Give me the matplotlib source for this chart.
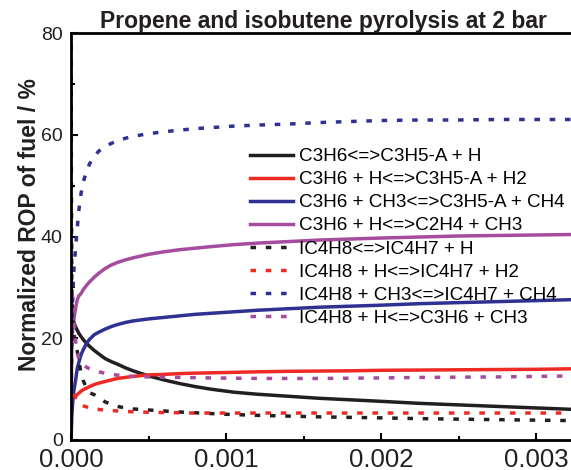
import matplotlib
matplotlib.use('Agg')
import matplotlib.pyplot as plt
from matplotlib.ticker import MultipleLocator, FormatStrFormatter

plt.rcParams['font.family'] = ['Liberation Sans', 'DejaVu Sans']

# time / s
t = [0, 0.000002, 0.000005, 0.00001, 0.000015, 0.00002, 0.00003, 0.00004,
     0.00005, 0.000065, 0.00008, 0.0001, 0.00012, 0.00015, 0.00018, 0.00022,
     0.00026, 0.0003, 0.00035, 0.0004, 0.0005, 0.0006, 0.0007, 0.0008,
     0.0009, 0.00105, 0.0012, 0.0014, 0.0016, 0.0018, 0.002, 0.00225,
     0.0025, 0.00275, 0.003, 0.00325]

# propene reactions
c3h6_decomp = [30, 28, 26, 24.5, 23.6, 23.0, 22.2, 21.6, 21.0, 20.3, 19.7,
               19.0, 18.4, 17.6, 16.9, 16.0, 15.4, 14.9, 14.2, 13.6, 12.6,
               11.8, 11.1, 10.5, 10.0, 9.4, 9.0, 8.6, 8.2, 7.9, 7.6, 7.2,
               6.9, 6.6, 6.3, 6.0]
c3h6_h_abs = [11.2, 10.2, 9.2, 8.5, 8.2, 8.3, 8.6, 8.9, 9.2, 9.6, 9.9,
              10.2, 10.5, 10.9, 11.2, 11.5, 11.8, 12.1, 12.3, 12.5, 12.8,
              12.9, 13.05, 13.15, 13.2, 13.3, 13.4, 13.5, 13.55, 13.6, 13.7,
              13.75, 13.8, 13.85, 13.9, 14.0]
c3h6_ch3_abs = [0, 1.5, 4.5, 7, 8.8, 10, 11.8, 14, 15.2, 16.8, 17.8, 19.0,
                19.8, 20.7, 21.2, 21.8, 22.3, 22.7, 23.1, 23.4, 23.8, 24.1,
                24.4, 24.7, 24.9, 25.2, 25.5, 25.8, 26.1, 26.3, 26.5, 26.8,
                27.0, 27.2, 27.4, 27.6]
c3h6_h_add = [0, 10, 18, 21.5, 23, 24, 26, 27.5, 28.3, 28.8, 29.6, 30.4,
              31.1, 32.0, 32.8, 33.7, 34.4, 34.9, 35.4, 35.8, 36.5, 37.0,
              37.4, 37.7, 38.0, 38.4, 38.7, 39.0, 39.3, 39.5, 39.7, 39.9,
              40.1, 40.2, 40.3, 40.4]

# isobutene reactions
ic4h8_decomp = [95, 55, 30, 24, 21.5, 20.5, 19.3, 17.5, 15.5, 13.2, 11.6,
                10.2, 9.3, 8.9, 8.2, 7.5, 7.0, 6.6, 6.3, 6.1, 5.9, 5.7, 5.5,
                5.35, 5.2, 5.0, 4.85, 4.7, 4.55, 4.45, 4.35, 4.2, 4.1, 4.0,
                3.9, 3.8]
ic4h8_h_abs = [12, 11.5, 11, 10.3, 9.6, 9, 8.2, 7.6, 7.2, 6.9, 6.7, 6.5,
               6.3, 6.1, 6.0, 5.9, 5.8, 5.7, 5.6, 5.55, 5.45, 5.4, 5.35,
               5.3, 5.3, 5.3, 5.3, 5.3, 5.3, 5.3, 5.3, 5.3, 5.3, 5.3, 5.3,
               5.3]
ic4h8_ch3_abs = [0, 10, 20, 27, 31, 34, 38, 41.5, 45, 48.5, 50.8, 52.8,
                 54.3, 55.8, 56.8, 57.7, 58.3, 58.8, 59.3, 59.7, 60.2, 60.6,
                 60.9, 61.2, 61.4, 61.7, 61.9, 62.1, 62.4, 62.6, 62.8, 62.9,
                 62.9, 63.0, 63.0, 63.0]
ic4h8_h_add = [35, 32, 30, 28, 26, 23, 19.5, 17.3, 16, 15.2, 14.7, 14.3,
               14.0, 13.7, 13.4, 13.1, 12.9, 12.75, 12.6, 12.5, 12.4, 12.35,
               12.3, 12.25, 12.2, 12.15, 12.1, 12.1, 12.1, 12.15, 12.2, 12.3,
               12.35, 12.4, 12.5, 12.6]

labels = ['C3H6<=>C3H5-A + H', 'C3H6 + H<=>C3H5-A + H2',
          'C3H6 + CH3<=>C3H5-A + CH4', 'C3H6 + H<=>C2H4 + CH3',
          'IC4H8<=>IC4H7 + H', 'IC4H8 + H<=>IC4H7 + H2',
          'IC4H8 + CH3<=>IC4H7 + CH4', 'IC4H8 + H<=>C3H6 + CH3']
colors = ['#231f20', '#ee2a24', '#2e3192', '#a54c9f']

fig = plt.figure(figsize=(5.71, 4.70), dpi=100)
ax = fig.add_axes([71/571, 30/470, 504/571, 407/470])

dots = (0, (1.6, 2.8))
series = [c3h6_decomp, c3h6_h_abs, c3h6_ch3_abs, c3h6_h_add,
          ic4h8_decomp, ic4h8_h_abs, ic4h8_ch3_abs, ic4h8_h_add]
for i, y in enumerate(series):
    ls = '-' if i < 4 else dots
    ax.plot(t, y, color=colors[i % 4], lw=2.5, linestyle=ls, label=labels[i])

ax.set_xlim(0, 0.00325)
ax.set_ylim(0, 80)
ax.xaxis.set_major_locator(MultipleLocator(0.001))
ax.xaxis.set_minor_locator(MultipleLocator(0.0005))
ax.xaxis.set_major_formatter(FormatStrFormatter('%.3f'))
ax.yaxis.set_major_locator(MultipleLocator(20))
ax.yaxis.set_minor_locator(MultipleLocator(10))

for s in ax.spines.values():
    s.set_linewidth(2)
ax.tick_params(which='both', direction='in', top=False, right=False, width=1.5)
ax.tick_params(which='major', length=5)
ax.tick_params(which='minor', length=3)
ax.tick_params(axis='x', labelsize=18.5, pad=6)
ax.tick_params(axis='y', labelsize=14, pad=6)
for lab in ax.get_yticklabels() + ax.get_xticklabels():
    lab.set_color('#231f20')

ax.set_ylabel('Normalized ROP of fuel / %', fontsize=16.5, fontweight='bold',
              color='#231f20')
ax.yaxis.set_label_coords(-0.06, 0.53)
ax.set_title('Propene and isobutene pyrolysis at 2 bar', fontsize=16.5,
             fontweight='bold', color='#231f20', pad=3.5)

ax.legend(loc='upper left', bbox_to_anchor=(250/571, 1 - 148/470),
          bbox_transform=fig.transFigure, frameon=False, fontsize=13.6,
          borderpad=0, borderaxespad=0, handlelength=2.25, handletextpad=0.32,
          labelspacing=0.31)

fig.savefig('out.png', dpi=100)
